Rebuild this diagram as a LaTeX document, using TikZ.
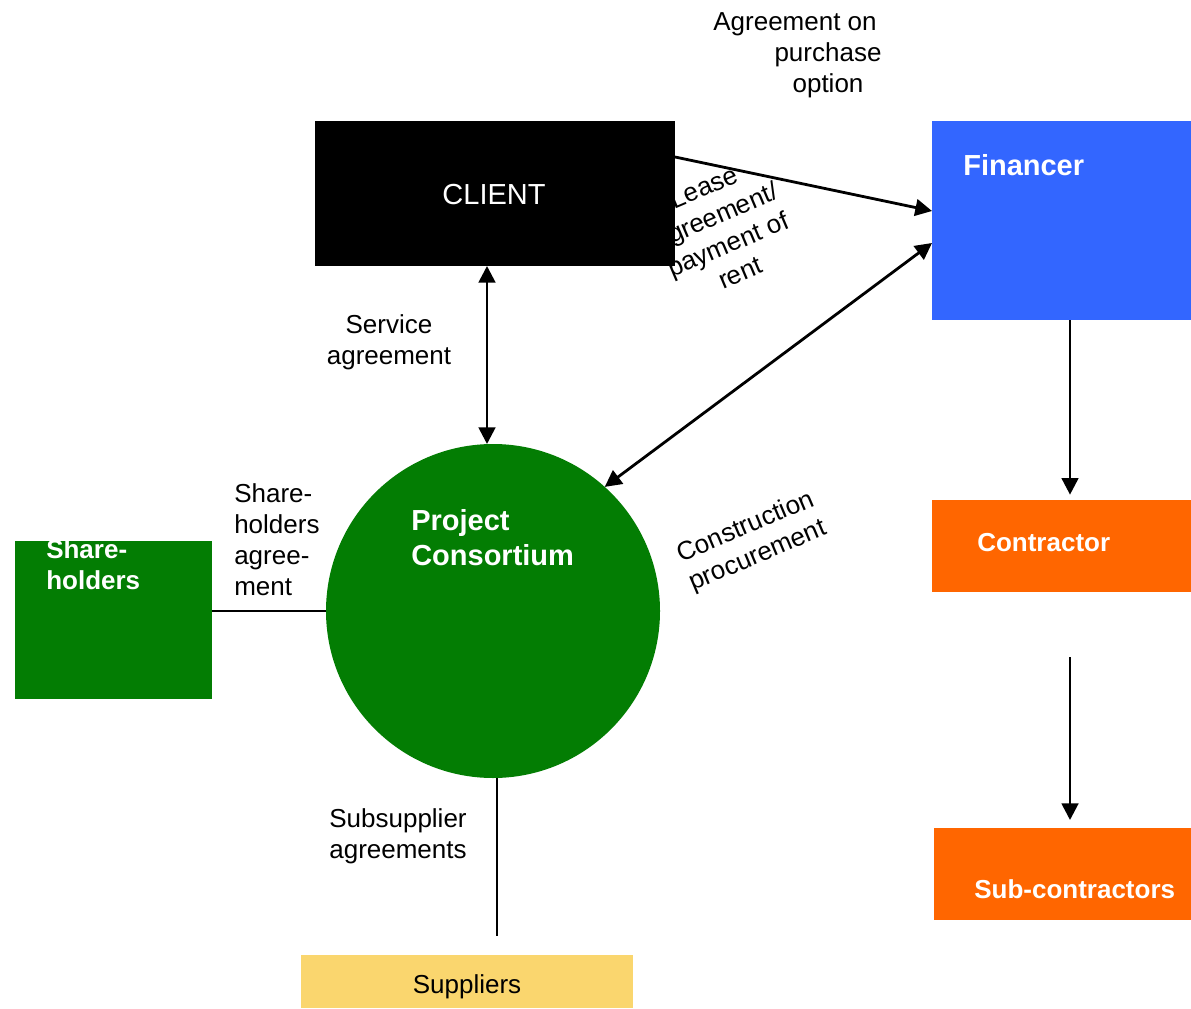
\documentclass[tikz,border=0pt]{standalone}
\usepackage{fontspec}
\setmainfont{Liberation Sans}
\usetikzlibrary{arrows.meta,calc}
\definecolor{consgreen}{RGB}{3,125,3}
\definecolor{finblue}{RGB}{51,102,255}
\definecolor{conorange}{RGB}{255,102,0}
\definecolor{supyellow}{RGB}{250,214,110}
\begin{document}
\begin{tikzpicture}[x=0.75pt,y=-0.75pt,
  box/.style={rectangle,draw=none,inner sep=0pt,outer sep=0pt},
  lbl/.style={inner sep=0pt,align=center,font=\fontsize{19.5}{23.25}\selectfont},
  wbold/.style={inner sep=0pt,align=left,text=white,font=\bfseries\fontsize{19.5}{23.25}\selectfont},
  wbig/.style={inner sep=0pt,align=left,text=white,font=\bfseries\fontsize{21.75}{26.25}\selectfont},
  conn/.style={line width=2.1pt,draw=black},
  >={Triangle[length=12.5pt,width=12.5pt]}]
\useasboundingbox (0,0) rectangle (1191,1009);

% parties
\node[box,fill=black,minimum width=270pt,minimum height=108.75pt] (client) at (495,193.5) {};
\node[box,fill=finblue,minimum width=194.25pt,minimum height=149.25pt] (fin) at (1061.5,220.5) {};
\node[box,fill=conorange,minimum width=194.25pt,minimum height=69pt] (con) at (1061.5,546) {};
\node[box,fill=conorange,minimum width=192.75pt,minimum height=69pt] (sub) at (1062.5,874) {};
\node[box,fill=consgreen,minimum width=147.75pt,minimum height=118.5pt] (sh) at (113.5,620) {};
\node[circle,fill=consgreen,draw=none,inner sep=0pt,outer sep=0pt,minimum size=250.5pt] (cons) at (493,611) {};
\node[box,fill=supyellow,minimum width=249pt,minimum height=39.75pt] (sup) at (467,981.5) {};

% texts inside the boxes
\node[inner sep=0pt,text=white,font=\fontsize{21.75}{26}\selectfont] (clienttxt) at (494,195) {CLIENT};
\node[wbig,anchor=west] (fintxt) at (963,165) {Financer};
\node[wbig,anchor=west] (constxt) at (411,538) {Project\\Consortium};
\node[wbold,anchor=west] (shtxt) at (46,565) {Share-\\holders};
\node[wbold,anchor=west] (contxt) at (977,543) {Contractor};
\node[wbold,anchor=west] (subtxt) at (974,889) {Sub-contractors};
\node[lbl] (suptxt) at (467,986.5) {Suppliers};

% connectors
\coordinate (c1) at ($(client.north east)+(0,36)$);
\coordinate (f1) at ($(fin.north west)+(0,90)$);
\draw[conn,->] (c1) -- (f1);

\coordinate (f2) at ($(fin.north west)+(0,122)$);
\draw[conn,<->] (f2) -- (cons.48);

\coordinate (c2) at ($(client.south)+(-8,0)$);
\draw[conn,<->] (c2) -- (c2 |- cons.north);

\coordinate (f3) at ($(fin.south)+(8.5,0)$);
\draw[conn,->,shorten >=4pt] (f3) -- (f3 |- con.north);

\coordinate (s0) at (1070,657);
\draw[conn,->,shorten >=6pt] (s0) -- (s0 |- sub.north);

\draw[conn] (cons.west) -- (cons.west -| sh.east);

\coordinate (subend) at (497,936);
\draw[conn] (cons.south -| subend) -- (subend);

% agreement labels
\node[lbl] (purch) at (828,55) {Agreement on\hspace*{49.5pt}\\purchase\\option};
\node[lbl,rotate=23] (lease) at (722,230) {Lease\\agreement/\\payment of\\rent};
\node[lbl] (serv) at (389,342) {Service\\agreement};
\node[lbl,align=left,anchor=west] (shag) at (234,540) {Share-\\holders\\agree-\\ment};
\node[lbl,rotate=23] (constr) at (752,542) {Construction\\procurement};
\node[lbl] (subsup) at (398,836) {Subsupplier\\agreements};
\end{tikzpicture}
\end{document}
